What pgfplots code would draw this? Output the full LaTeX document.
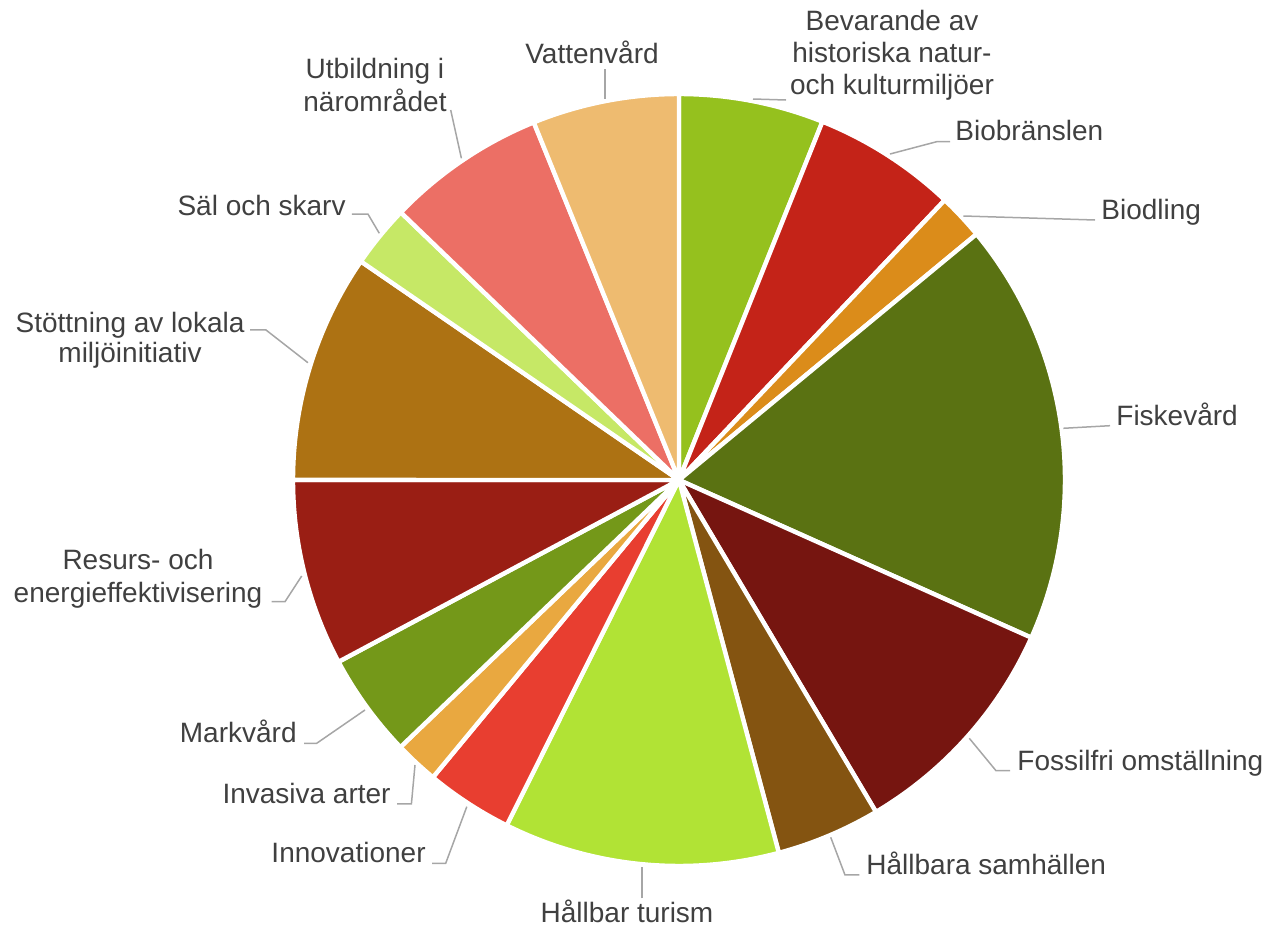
\documentclass[border=0pt]{standalone}
\usepackage{pgfplots}
\usepackage{pgfplotstable}
\pgfplotsset{compat=1.18}
\usepackage{fontspec}
\setmainfont{Liberation Sans}

\definecolor{cBev}{HTML}{95C11E}
\definecolor{cBio}{HTML}{C42318}
\definecolor{cBiod}{HTML}{DB8C1A}
\definecolor{cFisk}{HTML}{5A7212}
\definecolor{cFoss}{HTML}{761510}
\definecolor{cSamh}{HTML}{845411}
\definecolor{cTur}{HTML}{B1E335}
\definecolor{cInno}{HTML}{E83E30}
\definecolor{cInv}{HTML}{E9A840}
\definecolor{cMark}{HTML}{749819}
\definecolor{cRes}{HTML}{9A1E14}
\definecolor{cStot}{HTML}{AD7213}
\definecolor{cSal}{HTML}{C6E866}
\definecolor{cUtb}{HTML}{EC6F65}
\definecolor{cVat}{HTML}{EEBB70}
\definecolor{txt}{HTML}{404040}
\definecolor{lead}{HTML}{A6A6A6}

% share of each category (percent), clockwise from the top
\pgfplotstableread[col sep=comma]{
name,value,color
Bevarande av historiska natur- och kulturmiljöer,6.06,cBev
Biobränslen,6.03,cBio
Biodling,1.92,cBiod
Fiskevård,17.69,cFisk
Fossilfri omställning,9.78,cFoss
Hållbara samhällen,4.36,cSamh
Hållbar turism,11.53,cTur
Innovationer,3.64,cInno
Invasiva arter,1.83,cInv
Markvård,4.36,cMark
Resurs- och energieffektivisering,7.81,cRes
Stöttning av lokala miljöinitiativ,9.58,cStot
Säl och skarv,2.61,cSal
Utbildning i närområdet,6.67,cUtb
Vattenvård,6.14,cVat
}\piedata
\pgfplotstablecreatecol[create col/expr accum={\pgfmathaccuma + \thisrow{value}}{0}]{cum}\piedata
\pgfplotstablegetelem{14}{cum}\of\piedata
\let\total\pgfplotsretval

\tikzset{
  lbl/.style={inner sep=0pt, text=txt, font=\fontsize{14bp}{16.5bp}\selectfont},
  leader/.style={lead, line width=0.75bp, no markers},
}

\begin{document}
\begin{tikzpicture}
\begin{axis}[
  scale only axis, width=633bp, height=465bp,
  xmin=0, xmax=1266, ymin=0, ymax=930, y dir=reverse,
  hide axis, clip=false,
]
\path (axis cs:0,0) rectangle (axis cs:1266,930);
\pgfplotsforeachungrouped \i in {0,...,14} {
  \pgfplotstablegetelem{\i}{cum}\of\piedata \let\cumE\pgfplotsretval
  \pgfplotstablegetelem{\i}{value}\of\piedata \let\val\pgfplotsretval
  \pgfplotstablegetelem{\i}{color}\of\piedata \let\col\pgfplotsretval
  \pgfmathsetmacro\aS{(\cumE-\val)/\total*360}
  \pgfmathsetmacro\aE{\cumE/\total*360}
  \edef\temp{\noexpand\addplot[fill=\col, draw=white, line width=2.2bp, line join=round, no markers, domain=\aS:\aE, samples=60] ({679+386*sin(x)},{480-386*cos(x)}) -- (axis cs:679,480) -- cycle;}
  \temp
}
% leader lines
\addplot[leader] coordinates {(786,100) (753,99)};
\addplot[leader] coordinates {(950,141.7) (936.7,141.7) (890,154)};
\addplot[leader] coordinates {(1095,220) (963.3,216)};
\addplot[leader] coordinates {(1110,425.7) (1063.3,428.3)};
\addplot[leader] coordinates {(1010,770.7) (996,770.7) (969.3,738.3)};
\addplot[leader] coordinates {(859.3,875) (845,875) (830.7,837.3)};
\addplot[leader] coordinates {(641.8,898.3) (641.8,866.7)};
\addplot[leader] coordinates {(432,863.3) (445.7,863.3) (466.8,806.7)};
\addplot[leader] coordinates {(397,804) (411.4,804) (415,765)};
\addplot[leader] coordinates {(304,743.3) (316.7,743.3) (365,710)};
\addplot[leader] coordinates {(271.7,601.7) (285,601.7) (301.7,576)};
\addplot[leader] coordinates {(250,330) (266,330) (307.9,362.7)};
\addplot[leader] coordinates {(351.8,214) (367.9,214) (379.3,233.3)};
\addplot[leader] coordinates {(450.7,110) (461.4,158.3)};
\addplot[leader] coordinates {(605,69) (605,99.3)};
% labels
\node[lbl, anchor=base] at (axis cs:892,30) {Bevarande av};
\node[lbl, anchor=base] at (axis cs:892,62) {historiska natur-};
\node[lbl, anchor=base] at (axis cs:892,94) {och kulturmiljöer};
\node[lbl, anchor=base west] at (axis cs:955,140) {Biobränslen};
\node[lbl, anchor=base west] at (axis cs:1101,219) {Biodling};
\node[lbl, anchor=base west] at (axis cs:1116,426) {Fiskevård};
\node[lbl, anchor=base west] at (axis cs:1017,771) {Fossilfri omställning};
\node[lbl, anchor=base west] at (axis cs:866,875) {Hållbara samhällen};
\node[lbl, anchor=base] at (axis cs:627,923) {Hållbar turism};
\node[lbl, anchor=base east] at (axis cs:426,863) {Innovationer};
\node[lbl, anchor=base east] at (axis cs:391,804) {Invasiva arter};
\node[lbl, anchor=base east] at (axis cs:297,743) {Markvård};
\node[lbl, anchor=base] at (axis cs:138,570) {Resurs- och};
\node[lbl, anchor=base] at (axis cs:138,603) {energieffektivisering};
\node[lbl, anchor=base] at (axis cs:130,332) {Stöttning av lokala};
\node[lbl, anchor=base] at (axis cs:130,363) {miljöinitiativ};
\node[lbl, anchor=base east] at (axis cs:346,215) {Säl och skarv};
\node[lbl, anchor=base] at (axis cs:375,78) {Utbildning i};
\node[lbl, anchor=base] at (axis cs:375,111.7) {närområdet};
\node[lbl, anchor=base] at (axis cs:592,63) {Vattenvård};
\end{axis}
\end{tikzpicture}
\end{document}
